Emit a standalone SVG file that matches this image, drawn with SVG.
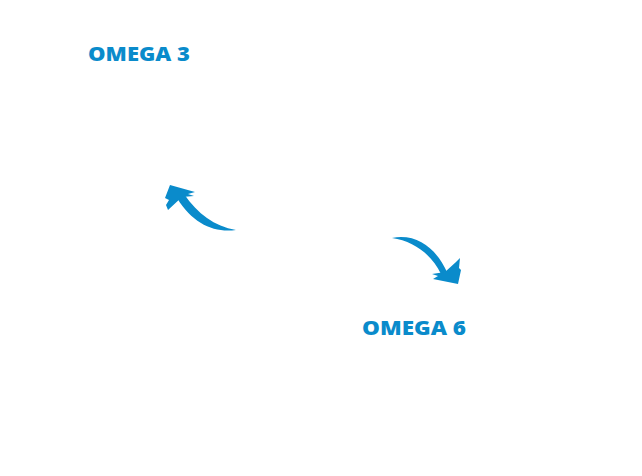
<svg xmlns="http://www.w3.org/2000/svg" width="642" height="476" viewBox="0 0 642 476">
<style>
.lbl{font-family:"Open Sans","Liberation Sans",sans-serif;font-weight:800;font-size:19.5px;fill:#0a8bcb}
.ar{fill:#0a8bcb}
</style>
<rect width="642" height="476" fill="#ffffff"/>
<g id="omega3"><text class="lbl" x="88" y="61" textLength="102" lengthAdjust="spacingAndGlyphs">OMEGA 3</text></g>
<g id="omega6"><text class="lbl" x="362" y="335" textLength="104" lengthAdjust="spacingAndGlyphs">OMEGA 6</text></g>
<g id="connectors">
<path class="ar" d="M236,230 C214,233 193,224 177,198 L184,194 C198,214 214,226 236,230 Z"/>
<path class="ar" d="M170,185 L195,192 L188,194 L194,196 L182,197 L168,210 L166,205 L169,200 L165,198 Z"/>
<path class="ar" d="M392,238 C418,233 437,250 447,272 L441,274 C432,255 414,241 392,238 Z"/>
<path class="ar" d="M458,284 L433,279 L438,276 L432,274 L445,272 L456,262 L460,258 L459,268 L461,270 Z"/>
</g>
</svg>
